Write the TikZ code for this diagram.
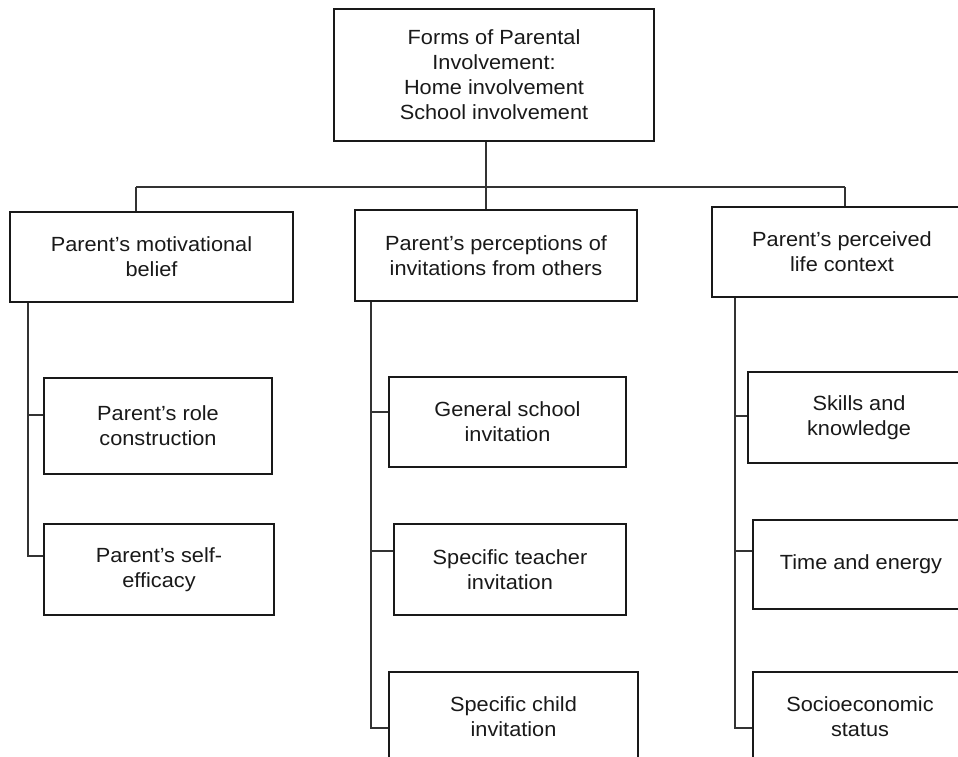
\documentclass[tikz,border=0pt]{standalone}
\usepackage{fontspec}
\setmainfont{Liberation Sans}[FakeStretch=1.06]
\begin{document}
\begin{tikzpicture}[x=1pt,y=-1pt,
  box/.style={draw=black!90, line width=2pt, fill=white, align=center, inner sep=0pt,
    font=\fontsize{20.5}{25}\selectfont, text=black!90},
  link/.style={draw=black!80, line width=1.5pt}]
\useasboundingbox (0,0) rectangle (958,757);
\clip (0,0) rectangle (958,757);
% top
\node[box, minimum width=320, minimum height=132] (top) at (494,75)
  {Forms of Parental\\Involvement:\\Home involvement\\School involvement};
% level 1
\node[box, minimum width=283, minimum height=90] (L1) at (151.5,257) {Parent's motivational\\belief};
\node[box, minimum width=282, minimum height=91] (M1) at (496,255.5) {Parent's perceptions of\\invitations from others};
\node[box, minimum width=260, minimum height=90] (R1) at (842,252) {Parent's perceived\\life context};
% level 2 left
\node[box, minimum width=228, minimum height=96] (L2) at (158,426) {Parent's role\\construction};
\node[box, minimum width=230, minimum height=91] (L3) at (159,569.5) {Parent's self-\\efficacy};
% level 2 middle
\node[box, minimum width=237, minimum height=90] (M2) at (507.5,422) {General school\\invitation};
\node[box, minimum width=232, minimum height=91] (M3) at (510,569.5) {Specific teacher\\invitation};
\node[box, minimum width=249, minimum height=90] (M4) at (513.5,717) {Specific child\\invitation};
% level 2 right
\node[box, minimum width=222, minimum height=91] (R2) at (859,417.5) {Skills and\\knowledge};
\node[box, minimum width=216, minimum height=89] (R3) at (861,564.5) {Time and energy};
\node[box, minimum width=214, minimum height=90] (R4) at (860,717) {Socioeconomic\\status};
% bus
\coordinate (bus) at (486,187);
\coordinate (busL) at (136,187);
\coordinate (busR) at (845,187);
\draw[link] (top.south -| bus) -- (M1.north -| bus);
\draw[link] (busL) -- (busR);
\draw[link] (busL) -- (L1.north -| busL);
\draw[link] (busR) -- (R1.north -| busR);
% left spine
\coordinate (lx) at (28,0);
\coordinate (bL2) at (28,415);
\coordinate (bL3) at (28,556);
\draw[link] (L1.south -| lx) -- (bL3) -- (bL3 -| L3.west);
\draw[link] (bL2) -- (bL2 -| L2.west);
% middle spine
\coordinate (mx) at (371,0);
\coordinate (bM2) at (371,412);
\coordinate (bM3) at (371,551);
\coordinate (bM4) at (371,728);
\draw[link] (M1.south -| mx) -- (bM4) -- (bM4 -| M4.west);
\draw[link] (bM2) -- (bM2 -| M2.west);
\draw[link] (bM3) -- (bM3 -| M3.west);
% right spine
\coordinate (rx) at (735,0);
\coordinate (bR2) at (735,416);
\coordinate (bR3) at (735,551);
\coordinate (bR4) at (735,728);
\draw[link] (R1.south -| rx) -- (bR4) -- (bR4 -| R4.west);
\draw[link] (bR2) -- (bR2 -| R2.west);
\draw[link] (bR3) -- (bR3 -| R3.west);
\end{tikzpicture}
\end{document}
